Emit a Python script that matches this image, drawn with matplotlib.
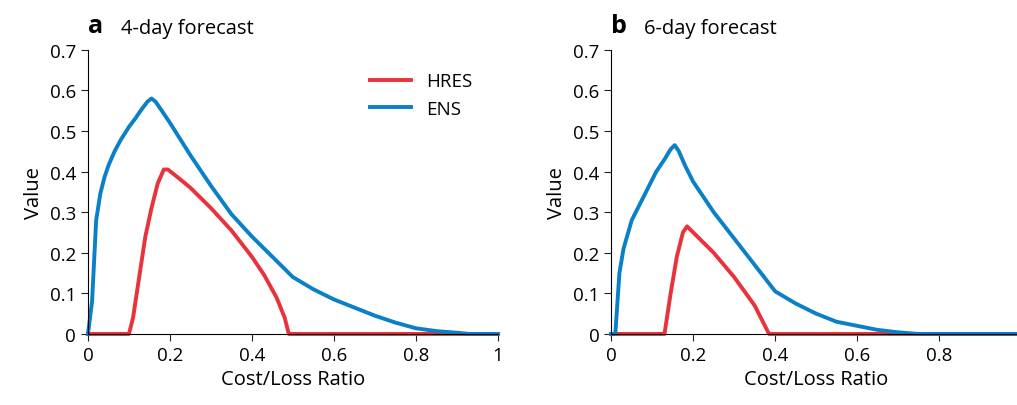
import matplotlib
matplotlib.use("Agg")
import matplotlib.pyplot as plt

plt.rcParams['font.family'] = ['Open Sans', 'DejaVu Sans']

a_ens_x = [0, 0.01, 0.02, 0.03, 0.04, 0.05, 0.065, 0.08, 0.1, 0.115, 0.13, 0.145, 0.155, 0.165, 0.18, 0.2,
           0.25, 0.3, 0.35, 0.4, 0.45, 0.5, 0.55, 0.6, 0.65, 0.7, 0.75, 0.8, 0.85, 0.9, 0.93, 1.0]
a_ens_y = [0, 0.08, 0.28, 0.345, 0.385, 0.415, 0.45, 0.478, 0.51, 0.53, 0.552, 0.572, 0.58, 0.572, 0.55, 0.52,
           0.44, 0.365, 0.295, 0.24, 0.19, 0.14, 0.11, 0.085, 0.065, 0.045, 0.028, 0.014, 0.007, 0.003, 0, 0]
a_hres_x = [0, 0.1, 0.11, 0.125, 0.14, 0.155, 0.17, 0.185, 0.195, 0.22, 0.25, 0.3, 0.35, 0.4, 0.43,
            0.46, 0.48, 0.49, 1.0]
a_hres_y = [0, 0, 0.04, 0.14, 0.24, 0.31, 0.37, 0.405, 0.405, 0.385, 0.36, 0.31, 0.255, 0.19, 0.145,
            0.09, 0.04, 0, 0]

b_ens_x = [0, 0.01, 0.02, 0.03, 0.04, 0.05, 0.07, 0.09, 0.11, 0.13, 0.145, 0.155, 0.165, 0.18, 0.2, 0.25,
           0.3, 0.35, 0.4, 0.45, 0.5, 0.55, 0.6, 0.65, 0.7, 0.75, 1.0]
b_ens_y = [0, 0, 0.15, 0.21, 0.245, 0.28, 0.32, 0.36, 0.4, 0.43, 0.455, 0.465, 0.45, 0.415, 0.375, 0.3,
           0.235, 0.17, 0.105, 0.075, 0.05, 0.03, 0.02, 0.01, 0.004, 0, 0]
b_hres_x = [0, 0.13, 0.145, 0.16, 0.175, 0.185, 0.2, 0.25, 0.3, 0.35, 0.385, 1.0]
b_hres_y = [0, 0, 0.1, 0.19, 0.25, 0.265, 0.25, 0.2, 0.14, 0.07, 0, 0]

RED = '#e8323c'
BLUE = '#0a80c6'

fig = plt.figure(figsize=(10.17, 4.06), dpi=100)
ax1 = fig.add_axes([0.0865, 0.175, 0.403, 0.70])
ax2 = fig.add_axes([0.601, 0.175, 0.403, 0.70])

panels = [(ax1, 'a', '4-day forecast', a_hres_x, a_hres_y, a_ens_x, a_ens_y),
          (ax2, 'b', '6-day forecast', b_hres_x, b_hres_y, b_ens_x, b_ens_y)]

for ax, letter, title, hx, hy, ex, ey in panels:
    ax.plot(hx, hy, color=RED, lw=2.8, label='HRES', clip_on=False)
    ax.plot(ex, ey, color=BLUE, lw=2.8, label='ENS', clip_on=False)
    ax.set_xlim(0, 1)
    ax.set_ylim(0, 0.7)
    ax.set_yticks([0, 0.1, 0.2, 0.3, 0.4, 0.5, 0.6, 0.7])
    ax.set_yticklabels(['0', '0.1', '0.2', '0.3', '0.4', '0.5', '0.6', '0.7'])
    ax.spines['top'].set_visible(False)
    ax.spines['right'].set_visible(False)
    ax.tick_params(labelsize=13.5, direction='out', length=5, color='#222222')
    ax.set_xlabel('Cost/Loss Ratio', fontsize=14.5)
    ax.set_ylabel('Value', fontsize=14.5)
    ax.text(0.0, 1.04, letter, transform=ax.transAxes, fontsize=18, fontweight='bold', va='bottom')
    ax.text(0.08, 1.04, title, transform=ax.transAxes, fontsize=14.5, va='bottom')

ax1.set_xticks([0, 0.2, 0.4, 0.6, 0.8, 1.0])
ax1.set_xticklabels(['0', '0.2', '0.4', '0.6', '0.8', '1'])
ax2.set_xticks([0, 0.2, 0.4, 0.6, 0.8, 1.0])
ax2.set_xticklabels(['0', '0.2', '0.4', '0.6', '0.8', ''])

ax1.legend(loc='upper right', bbox_to_anchor=(0.98, 0.98), frameon=False, fontsize=13.5,
           handlelength=2.2)

fig.savefig('out.png', dpi=100)
